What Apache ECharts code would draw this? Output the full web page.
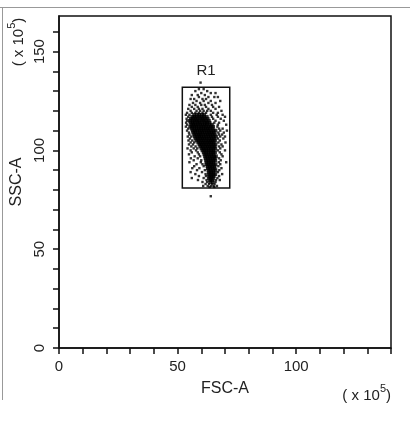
<!DOCTYPE html>
<html>
<head>
<meta charset="utf-8">
<script src="https://cdn.jsdelivr.net/npm/echarts@6/dist/echarts.min.js"></script>
<style>html,body{margin:0;padding:0;background:#fff}#c{width:416px;height:430px}</style>
</head>
<body>
<div id="c"></div>
<script>
// Axis ticks (units of 10^5)
const fscLabelTicks = [0, 50, 100];
const fscTickValues = [0, 10, 20, 30, 40, 50, 60, 70, 80, 90, 100, 110, 120, 130, 140];
const sscLabelTicks = [0, 50, 100, 150];
const sscTickValues = [0, 10, 20, 30, 40, 50, 60, 70, 80, 90, 100, 110, 120, 130, 140, 150, 160];
const fscRange = [0, 140];
const sscRange = [0, 168];

// Gate R1: FSC-A and SSC-A bounds
const gateName = 'R1';
const gateFsc = [52, 72];
const gateSsc = [81, 132];

// Dense core events: each row = [SSC-A, [FSC-A values]]
const coreRows = [
  [118, [57, 58.2, 59.1, 60.3, 61.2]],
  [117, [56.2, 57.1, 58, 59.2, 60, 61.1, 62.3]],
  [116, [55.6, 56.5, 57.6, 58.4, 59.5, 60.6, 61.5, 62.7]],
  [115, [55.2, 56.3, 57.2, 58.1, 59, 60.1, 61, 62, 63.2]],
  [114, [55.5, 56.4, 57.3, 58.5, 59.3, 60.4, 61.6, 62.4, 63.5]],
  [113, [55.8, 56.8, 57.7, 58.6, 59.6, 60.5, 61.4, 62.3, 63.4, 64.5]],
  [112, [55.3, 56.2, 57.1, 58, 59, 60, 61, 62, 63, 64, 65]],
  [111, [56, 57, 58, 58.9, 59.9, 60.8, 61.7, 62.6, 63.6, 64.7]],
  [110, [56.4, 57.4, 58.3, 59.3, 60.2, 61.1, 62.1, 63, 64, 65.1, 66]],
  [109, [56.6, 57.5, 58.5, 59.5, 60.4, 61.4, 62.4, 63.3, 64.3, 65.3]],
  [108, [57, 58, 59, 59.8, 60.8, 61.8, 62.8, 63.7, 64.7, 65.7]],
  [107, [57.3, 58.3, 59.2, 60.1, 61.1, 62, 63, 64, 65, 66.2]],
  [106, [57.6, 58.6, 59.5, 60.5, 61.4, 62.4, 63.3, 64.4, 65.4]],
  [105, [58, 59, 60, 61, 62, 62.9, 63.9, 64.8, 65.8]],
  [104, [58.7, 59.6, 60.6, 61.5, 62.5, 63.4, 64.3, 65.3]],
  [103, [59.2, 60.1, 61.1, 62, 63, 64, 65, 66]],
  [102, [59.6, 60.6, 61.6, 62.6, 63.5, 64.5, 65.5]],
  [101, [60.1, 61, 62, 63, 64, 65, 65.9]],
  [100, [60.5, 61.4, 62.3, 63.2, 64.2, 65.2]],
  [99, [61, 62, 63, 64, 65, 65.8]],
  [98, [61.3, 62.2, 63.1, 64.1, 65.1]],
  [97, [61.6, 62.5, 63.5, 64.4, 65.4, 66.2]],
  [96, [61.8, 62.8, 63.7, 64.7, 65.6]],
  [95, [62, 63, 64, 65, 65.9]],
  [94, [62.3, 63.3, 64.2, 65.2]],
  [93, [62.1, 63, 64, 65, 66]],
  [92, [62.6, 63.6, 64.5, 65.5]],
  [91, [62.8, 63.7, 64.7, 65.6]],
  [90, [63, 64, 65, 66]],
  [89, [63.3, 64.2, 65.2]],
  [88, [63.1, 64, 65, 65.9]],
  [87, [63.5, 64.4, 65.3]],
  [86, [63.2, 64.1, 65]],
  [85, [63.7, 64.6]],
  [84, [63.8, 64.8]]
];

// Scattered events: each row = [SSC-A, [FSC-A values]]
const sparseRows = [
  [134.3, [59.7]],
  [131, [59, 61]],
  [130, [57.5, 62.5]],
  [129, [60, 64, 66]],
  [128, [56, 58.5, 61.5]],
  [127, [59, 63, 65.5, 67]],
  [126, [55.5, 57, 60.5, 62]],
  [125, [58, 61, 64, 68]],
  [124, [56.5, 59.5, 63, 66]],
  [123, [55, 57.5, 60, 61.5, 64.5]],
  [122, [56, 58.5, 62, 65, 67.5]],
  [121, [54.5, 57, 59, 60.5, 63, 66]],
  [120, [55.5, 58, 59.5, 61, 62.5, 64, 68.5]],
  [119, [54, 56, 57.5, 59, 60.5, 62, 65, 67]],
  [118, [53.5, 55, 64, 66.5, 69]],
  [117, [54.5, 64.5, 67, 70]],
  [116, [53.8, 65, 68.2]],
  [115, [54, 66, 69.5]],
  [114, [53.6, 65.5, 67.5]],
  [113, [54, 67, 70.5]],
  [112, [53.5, 66.8]],
  [111, [54.5, 67.5, 69]],
  [110, [54, 68, 70.8]],
  [109, [54.8, 67.2, 69.5]],
  [108, [55, 67.5, 68.8]],
  [107, [54.3, 55.8, 68, 70]],
  [106, [55.2, 67, 69.3]],
  [105, [54.6, 56.2, 67.8]],
  [104, [55.5, 57, 67.2, 70.2]],
  [103, [54.8, 56.5, 68.5]],
  [102, [55.8, 57.6, 67.5, 69]],
  [101, [54.2, 56.8, 58.3, 68]],
  [100, [55.5, 57.8, 67, 70]],
  [99, [56, 58.5, 67.8]],
  [98, [54.8, 59, 68.5]],
  [97, [57.2, 59.5, 69]],
  [96, [55.6, 58.5, 67.5]],
  [95, [56.8, 60, 68.2]],
  [94, [55, 59.8, 67.4, 70.5]],
  [93, [58, 60.5, 68]],
  [92, [57, 61, 67.2]],
  [91, [56.2, 59.2, 68.5]],
  [90, [58.2, 61.5, 67.6]],
  [89, [55.5, 60.3, 67]],
  [88, [57.5, 61.8, 68.8]],
  [87, [59, 62, 67.5]],
  [86, [56, 61, 66.8]],
  [85, [58.6, 62.2, 66.2, 67.8]],
  [84, [60.5, 62.5, 66]],
  [83, [61.8, 63.3, 64.6, 65.6]],
  [82, [60.8, 62.7, 64.2, 65.2, 66.6]],
  [81.5, [63.5, 65.5]],
  [76.8, [64]]
];

function flatten(rows) {
  const out = [];
  rows.forEach(function (row) {
    row[1].forEach(function (x) { out.push([x, row[0]]); });
  });
  return out;
}
const coreEvents = flatten(coreRows);
const sparseEvents = flatten(sparseRows);

const FONT = '"Liberation Sans", Arial, Helvetica, sans-serif';
const chart = echarts.init(document.getElementById('c'), null, {renderer: 'canvas'});

chart.setOption({
  animation: false,
  backgroundColor: '#fff',
  textStyle: {fontFamily: FONT},
  grid: {
    left: 59, right: 25, top: 16, bottom: 82,
    show: true, borderColor: '#111', borderWidth: 1.5, backgroundColor: 'transparent'
  },
  xAxis: {
    type: 'value',
    min: fscRange[0], max: fscRange[1], interval: 10,
    name: 'FSC-A', nameLocation: 'middle', nameGap: 33,
    nameTextStyle: {fontSize: 16, color: '#222', fontFamily: FONT},
    axisLine: {show: true, lineStyle: {color: '#111', width: 1.5}},
    axisTick: {show: true, inside: false, length: 6, lineStyle: {color: '#111', width: 1.5}, customValues: fscTickValues},
    axisLabel: {
      show: true, margin: 11, fontSize: 15, color: '#222', fontFamily: FONT,
      customValues: fscLabelTicks,
      formatter: function (v) { return fscLabelTicks.indexOf(v) >= 0 ? String(v) : ''; }
    },
    splitLine: {show: false}
  },
  yAxis: {
    type: 'value',
    min: sscRange[0], max: sscRange[1], interval: 10,
    name: 'SSC-A', nameLocation: 'middle', nameGap: 31,
    nameTextStyle: {fontSize: 16, color: '#222', fontFamily: FONT},
    axisLine: {show: true, lineStyle: {color: '#111', width: 1.5}},
    axisTick: {show: true, inside: false, length: 6, lineStyle: {color: '#111', width: 1.5}, customValues: sscTickValues},
    axisLabel: {
      show: true, rotate: 90, margin: 12, fontSize: 15, color: '#222', fontFamily: FONT,
      customValues: sscLabelTicks,
      formatter: function (v) { return sscLabelTicks.indexOf(v) >= 0 ? String(v) : ''; }
    },
    splitLine: {show: false}
  },
  graphic: [
    {type: 'line', silent: true, shape: {x1: 0, y1: 7.5, x2: 410, y2: 7.5}, style: {stroke: '#999', lineWidth: 1}},
    {type: 'line', silent: true, shape: {x1: 2.5, y1: 7, x2: 2.5, y2: 400}, style: {stroke: '#999', lineWidth: 1}},
    {
      type: 'text', x: 391, y: 393, silent: true,
      style: {
        text: '{a|( x 10}{s|5}{a|)}', textAlign: 'right', textVerticalAlign: 'middle',
        rich: {
          a: {fontSize: 15, fontFamily: FONT, fill: '#222', lineHeight: 20, verticalAlign: 'bottom'},
          s: {fontSize: 11, fontFamily: FONT, fill: '#222', lineHeight: 20, verticalAlign: 'top'}
        }
      }
    },
    {
      type: 'text', x: 16, y: 42, rotation: Math.PI / 2, silent: true,
      style: {
        text: '{a|( x 10}{s|5}{a|)}', textAlign: 'center', textVerticalAlign: 'middle',
        rich: {
          a: {fontSize: 15, fontFamily: FONT, fill: '#222', lineHeight: 20, verticalAlign: 'bottom'},
          s: {fontSize: 11, fontFamily: FONT, fill: '#222', lineHeight: 20, verticalAlign: 'top'}
        }
      }
    }
  ],
  series: [{
    type: 'scatter',
    name: 'core',
    data: coreEvents,
    symbol: 'rect',
    symbolSize: 3.8,
    itemStyle: {color: '#000'},
    z: 3
  }, {
    type: 'scatter',
    name: 'sparse',
    data: sparseEvents,
    symbol: 'rect',
    symbolSize: 2.4,
    itemStyle: {color: '#000'},
    z: 2,
    markArea: {
      silent: true,
      itemStyle: {color: 'rgba(0,0,0,0)', borderColor: '#111', borderWidth: 1.5},
      label: {show: true, position: 'top', distance: 8, fontSize: 15, color: '#222', fontFamily: FONT},
      data: [[
        {name: gateName, coord: [gateFsc[0], gateSsc[1]]},
        {coord: [gateFsc[1], gateSsc[0]]}
      ]]
    }
  }]
});
</script>
</body>
</html>
